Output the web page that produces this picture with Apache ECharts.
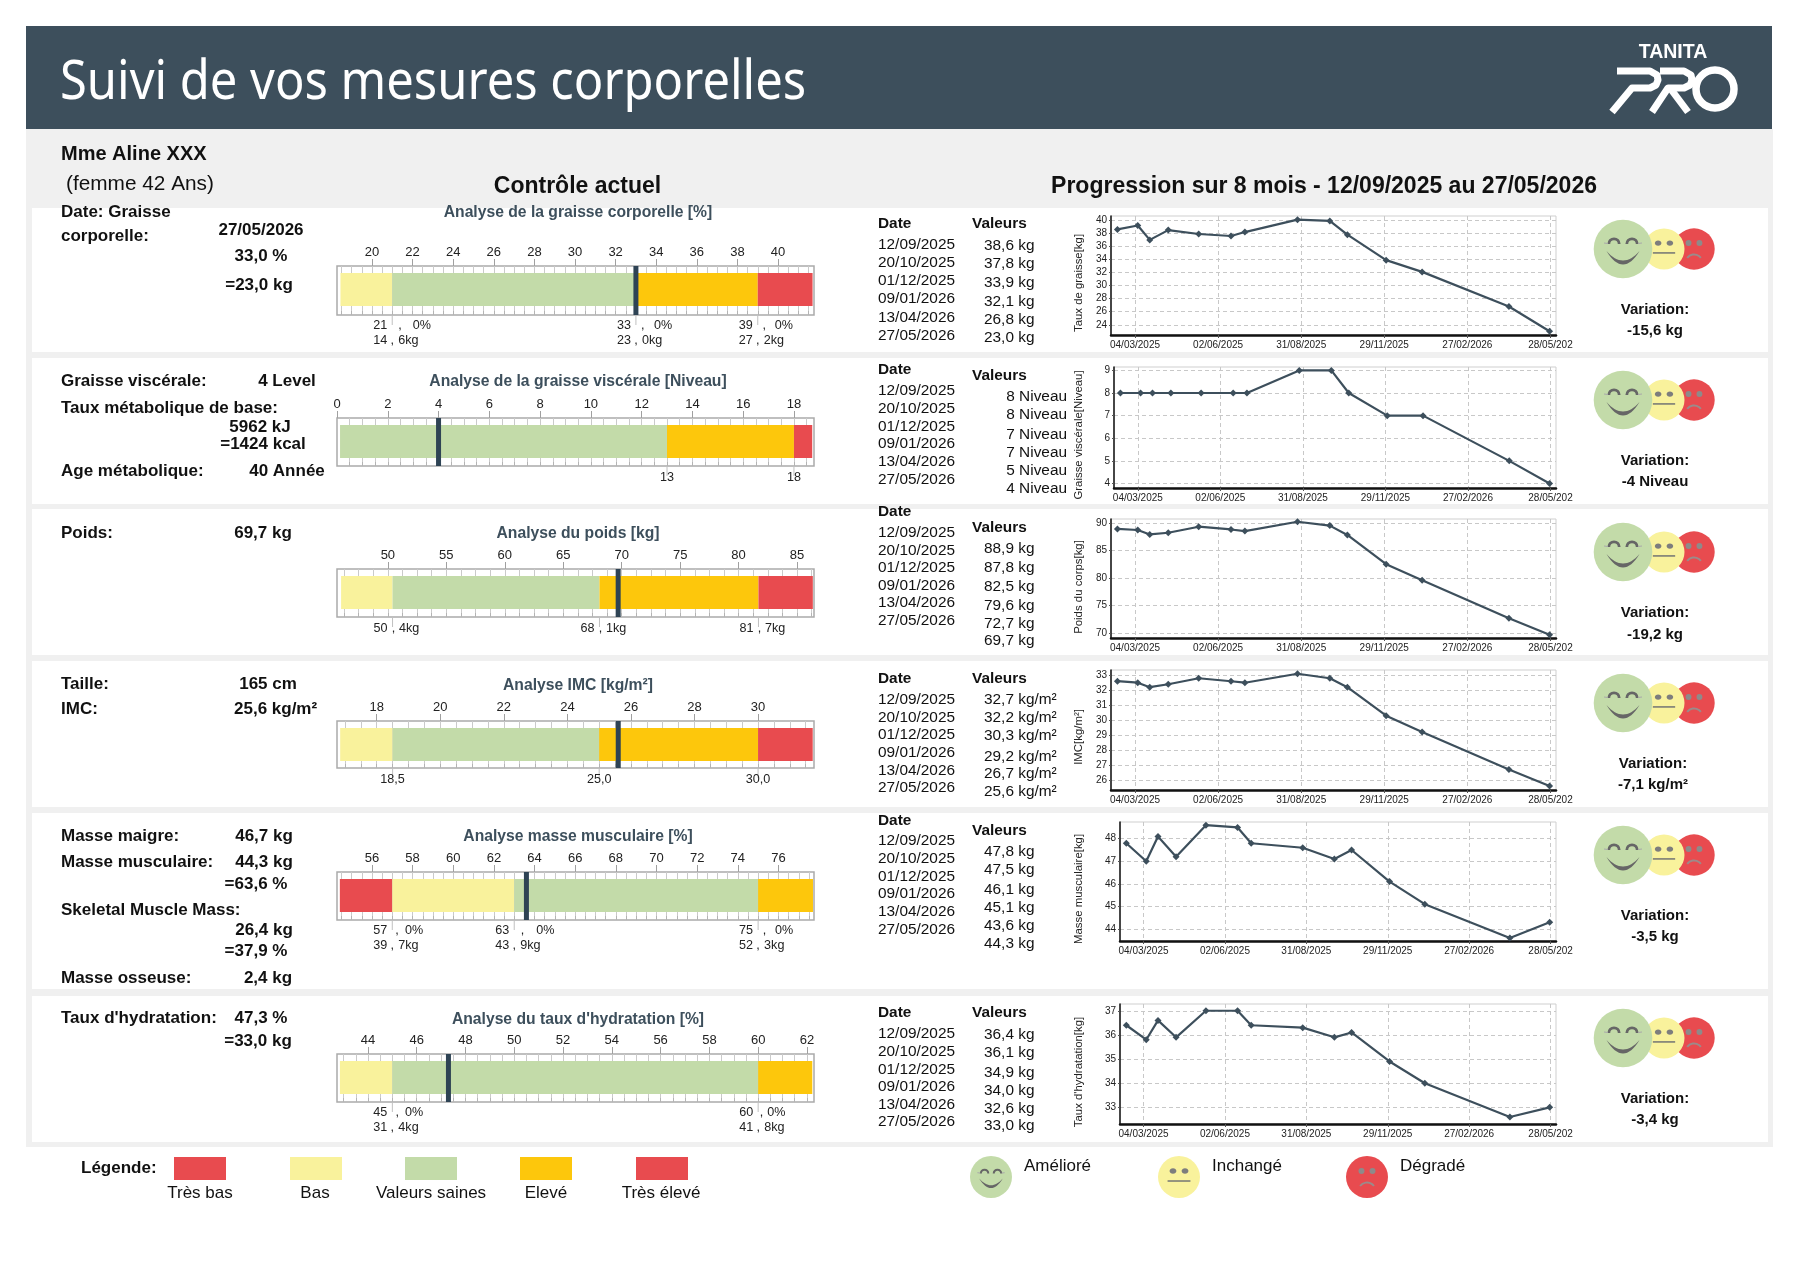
<!DOCTYPE html>
<html lang="fr">
<head>
<meta charset="utf-8">
<title>Suivi de vos mesures corporelles</title>
<script src="https://cdn.jsdelivr.net/npm/echarts@6/dist/echarts.min.js"></script>
<style>
html,body{margin:0;padding:0;background:#fff}
#main{width:1800px;height:1273px}
</style>
</head>
<body>
<div id="main"></div>
<script>
// ---------- Data ----------
const visitDates = ['2025-02-13','2025-03-07','2025-03-20','2025-04-09','2025-05-12','2025-06-16','2025-07-01','2025-08-27','2025-10-01','2025-10-20','2025-12-01','2026-01-09','2026-04-13','2026-05-27'];
const axisDates = ['2025-03-04','2025-06-02','2025-08-31','2025-11-29','2026-02-27','2026-05-28'];
const axisDateLabels = ['04/03/2025','02/06/2025','31/08/2025','29/11/2025','27/02/2026','28/05/202'];

const fatHistory = [38.6,39.2,37.0,38.5,37.9,37.6,38.2,40.1,39.9,37.8,33.9,32.1,26.8,23.0];
const visceralHistory = [8,8,8,8,8,8,8,9,9,8,7,7,5,4];
const weightHistory = [88.9,88.7,87.9,88.2,89.3,88.8,88.5,90.2,89.5,87.8,82.5,79.6,72.7,69.7];
const bmiHistory = [32.6,32.5,32.2,32.4,32.8,32.6,32.5,33.1,32.8,32.2,30.3,29.2,26.7,25.6];
const muscleHistory = [47.8,47.0,48.1,47.2,48.6,48.5,47.8,47.6,47.1,47.5,46.1,45.1,43.6,44.3];
const waterHistory = [36.4,35.8,36.6,35.9,37.0,37.0,36.4,36.3,35.9,36.1,34.9,34.0,32.6,33.0];

const tableDates = ['12/09/2025','20/10/2025','01/12/2025','09/01/2026','13/04/2026','27/05/2026'];
const fatTable = ['38,6 kg','37,8 kg','33,9 kg','32,1 kg','26,8 kg','23,0 kg'];
const visceralTable = ['8 Niveau','8 Niveau','7 Niveau','7 Niveau','5 Niveau','4 Niveau'];
const weightTable = ['88,9 kg','87,8 kg','82,5 kg','79,6 kg','72,7 kg','69,7 kg'];
const bmiTable = ['32,7 kg/m²','32,2 kg/m²','30,3 kg/m²','29,2 kg/m²','26,7 kg/m²','25,6 kg/m²'];
const muscleTable = ['47,8 kg','47,5 kg','46,1 kg','45,1 kg','43,6 kg','44,3 kg'];
const waterTable = ['36,4 kg','36,1 kg','34,9 kg','34,0 kg','32,6 kg','33,0 kg'];

const fatMarker = 33.0, visceralMarker = 4, weightMarker = 69.7, bmiMarker = 25.6, muscleMarker = 63.6, waterMarker = 47.3;

const fatLabels = [20,22,24,26,28,30,32,34,36,38,40];
const visceralLabels = [0,2,4,6,8,10,12,14,16,18];
const weightLabels = [50,55,60,65,70,75,80,85];
const bmiLabels = [18,20,22,24,26,28,30];
const muscleLabels = [56,58,60,62,64,66,68,70,72,74,76];
const waterLabels = [44,46,48,50,52,54,56,58,60,62];

const fatBands = [[18.45,21,'yellow'],[21,33,'green'],[33,39,'orange'],[39,41.7,'red']];
const visceralBands = [[0.12,13,'green'],[13,18,'orange'],[18,18.72,'red']];
const weightBands = [[46,50.4,'yellow'],[50.4,68.1,'green'],[68.1,81.7,'orange'],[81.7,86.35,'red']];
const bmiBands = [[16.85,18.5,'yellow'],[18.5,25,'green'],[25,30,'orange'],[30,31.72,'red']];
const muscleBands = [[54.42,57,'red'],[57,63,'yellow'],[63,75,'green'],[75,77.7,'orange']];
const waterBands = [[42.85,45,'yellow'],[45,60,'green'],[60,62.22,'orange']];

const fatThresholds = [[21,'21','0%','14','6kg'],[33,'33','0%','23','0kg'],[39,'39','0%','27','2kg']];
const visceralThresholds = [[13,'13'],[18,'18']];
const weightThresholds = [[50.4,'50','4kg'],[68.1,'68','1kg'],[81.7,'81','7kg']];
const bmiThresholds = [[18.5,'18,5'],[25,'25,0'],[30,'30,0']];
const muscleThresholds = [[57,'57','0%','39','7kg'],[63,'63','0%','43','9kg'],[75,'75','0%','52','3kg']];
const waterThresholds = [[45,'45','0%','31','4kg'],[60,'60','0%','41','8kg']];

const fatRange = [18.28,41.77], visceralRange = [0,18.79], weightRange = [45.65,86.45], bmiRange = [16.75,31.76], muscleRange = [54.28,77.75], waterRange = [42.73,62.29];
const fatSteps = [18.5,0.5], visceralSteps = [0.5,0.5], weightSteps = [46.25,1.25], bmiSteps = [17,0.5], muscleSteps = [54.5,0.5], waterSteps = [43,0.5];

const colors = {red:'#e84b4f', yellow:'#f9f29c', green:'#c3dba9', orange:'#fdc70c'};
const slate = '#3d4f5c', markerColor = '#2e4354', sans = '"Liberation Sans", Arial, sans-serif';

// ---------- Layout of the six rows ----------
const panels = [[208,352],[358,504],[509,655],[661,807],[813,989],[996,1142]];

const gauges = [
  {title:'Analyse de la graisse corporelle [%]', titleY:211, box:[266,315], range:fatRange, labels:fatLabels, steps:fatSteps, bands:fatBands, marker:fatMarker, thresholds:fatThresholds, gaps:[20.6,18,17]},
  {title:'Analyse de la graisse viscérale [Niveau]', titleY:380, box:[418,466], range:visceralRange, labels:visceralLabels, steps:visceralSteps, bands:visceralBands, marker:visceralMarker, thresholds:visceralThresholds},
  {title:'Analyse du poids [kg]', titleY:532, box:[569,617], range:weightRange, labels:weightLabels, steps:weightSteps, bands:weightBands, marker:weightMarker, thresholds:weightThresholds},
  {title:'Analyse IMC [kg/m²]', titleY:684, box:[721,768], range:bmiRange, labels:bmiLabels, steps:bmiSteps, bands:bmiBands, marker:bmiMarker, thresholds:bmiThresholds},
  {title:'Analyse masse musculaire [%]', titleY:835, box:[872,920], range:muscleRange, labels:muscleLabels, steps:muscleSteps, bands:muscleBands, marker:muscleMarker, thresholds:muscleThresholds, gaps:[12.6,22,17]},
  {title:"Analyse du taux d'hydratation [%]", titleY:1018, box:[1054,1102], range:waterRange, labels:waterLabels, steps:waterSteps, bands:waterBands, marker:waterMarker, thresholds:waterThresholds, gaps:[12.6,9]}
];

const charts = [
  {name:'Taux de graisse[kg]', nameY:283, left:1111, box:[216,335], range:[22.43,40.66], ticks:[24,26,28,30,32,34,36,38,40], values:fatHistory},
  {name:'Graisse viscérale[Niveau]', nameY:435, left:1114, box:[367,488], range:[3.8,9.15], ticks:[4,5,6,7,8,9], values:visceralHistory},
  {name:'Poids du corps[kg]', nameY:587, left:1111, box:[519,638], range:[69.1,90.7], ticks:[70,75,80,85,90], values:weightHistory},
  {name:'IMC[kg/m²]', nameY:737, left:1111, box:[670,790], range:[25.33,33.35], ticks:[26,27,28,29,30,31,32,33], values:bmiHistory},
  {name:'Masse musculaire[kg]', nameY:889, left:1120, box:[822,941], range:[43.47,48.74], ticks:[44,45,46,47,48], values:muscleHistory},
  {name:"Taux d'hydratation[kg]", nameY:1072, left:1120, box:[1004,1124], range:[32.31,37.28], ticks:[33,34,35,36,37], values:waterHistory}
];

const tables = [
  {headY:[222,222], dateY:[243,261,279,297,316,334], valueY:[244,262,281,300,318,336], values:fatTable},
  {headY:[368,374], dateY:[389,407,425,442,460,478], valueY:[395,413,433,451,469,487], values:visceralTable, rightAlign:true},
  {headY:[510,526], dateY:[531,549,566,584,601,619], valueY:[547,566,585,604,622,639], values:weightTable},
  {headY:[677,677], dateY:[698,716,733,751,769,786], valueY:[698,716,734,755,772,790], values:bmiTable},
  {headY:[819,829], dateY:[839,857,875,892,910,928], valueY:[850,868,888,906,924,942], values:muscleTable},
  {headY:[1011,1011], dateY:[1032,1050,1068,1085,1103,1120], valueY:[1033,1051,1071,1089,1107,1124], values:waterTable}
];

const variations = [
  {faceY:249, textX:1655, y:[308,329], text:'-15,6 kg'},
  {faceY:400, textX:1655, y:[459,480], text:'-4 Niveau'},
  {faceY:552, textX:1655, y:[611,633], text:'-19,2 kg'},
  {faceY:703, textX:1653, y:[762,783], text:'-7,1 kg/m²'},
  {faceY:855, textX:1655, y:[914,935], text:'-3,5 kg'},
  {faceY:1038, textX:1655, y:[1097,1118], text:'-3,4 kg'}
];

// Label, value text and position of the summary column on the left
const summary = [
  ['Date: Graisse',61,211,'b'],['corporelle:',61,235,'b'],['27/05/2026',261,229,'bc'],['33,0 %',261,255,'bc'],['=23,0 kg',259,284,'bc'],
  ['Graisse viscérale:',61,380,'b'],['4 Level',287,380,'bc'],['Taux métabolique de base:',61,407,'b'],['5962 kJ',260,426,'bc'],['=1424 kcal',263,443,'bc'],['Age métabolique:',61,470,'b'],['40 Année',287,470,'bc'],
  ['Poids:',61,532,'b'],['69,7 kg',263,532,'bc'],
  ['Taille:',61,683,'b'],['165 cm',268,683,'bc'],['IMC:',61,708,'b'],['25,6 kg/m²',234,708,'b'],
  ['Masse maigre:',61,835,'b'],['46,7 kg',264,835,'bc'],['Masse musculaire:',61,861,'b'],['44,3 kg',264,861,'bc'],['=63,6 %',256,883,'bc'],['Skeletal Muscle Mass:',61,909,'b'],['26,4 kg',264,929,'bc'],['=37,9 %',256,950,'bc'],['Masse osseuse:',61,977,'b'],['2,4 kg',268,977,'bc'],
  ["Taux d'hydratation:",61,1017,'b'],['47,3 %',261,1017,'bc'],['=33,0 kg',258,1040,'bc']
];

const legendBands = [['Très bas','red',174,200],['Bas','yellow',290,315],['Valeurs saines','green',405,431],['Elevé','orange',520,546],['Très élevé','red',636,661]];
const legendFaces = [['Amélioré','green',991,1024],['Inchangé','yellow',1179,1212],['Dégradé','red',1367,1400]];

// ---------- Helpers for page furniture ----------
const graphics = [];
function rect(x,y,w,h,fill,z){graphics.push({type:'rect',z:z===undefined?-10:z,silent:true,shape:{x,y,width:w,height:h},style:{fill}});}
function text(str,x,y,font,opt){
  opt=opt||{};
  graphics.push({type:'text',z:20,silent:true,x,y:opt.rotation?y:y+1.5,rotation:opt.rotation||0,scaleX:opt.scaleX||1,
    style:{text:str,x:0,y:0,font,fill:opt.fill||'#111',align:opt.align||'left',verticalAlign:'middle'}});
}
function add(type,shape,style,z){graphics.push({type,z:z,silent:true,shape,style});}

function crescentPoints(cx,cy,half,outer,inner){
  const pts=[];
  for(let i=0;i<=16;i++){const u=i/16,px=cx-half+2*half*u;pts.push([px,cy+2*outer*u*(1-u)*2]);}
  for(let i=16;i>=0;i--){const u=i/16,px=cx-half+2*half*u;pts.push([px,cy+2*inner*u*(1-u)*2]);}
  return pts;
}
function drawFace(kind,cx,cy,r,z){
  const s=r/29.3, grey='#666';
  if(kind==='green'){
    add('circle',{cx,cy,r},{fill:colors.green},z);
    [-1,1].forEach(d=>{
      add('arc',{cx:cx+d*9*s,cy:cy-5*s,r:5.2*s,startAngle:Math.PI,endAngle:2*Math.PI},{stroke:grey,lineWidth:2.8*s,fill:'none'},z+1);
      add('line',{x1:cx+d*15*s,y1:cy-5.5*s,x2:cx+d*19*s,y2:cy-6*s},{stroke:'#a9a9a9',lineWidth:1},z+1);
    });
    add('polygon',{points:crescentPoints(cx,cy+2*s,16.5*s,13.5*s,9.5*s)},{fill:grey},z+1);
  } else if(kind==='yellow'){
    add('circle',{cx,cy,r},{fill:colors.yellow},z);
    [-1,1].forEach(d=>add('ellipse',{cx:cx+d*6*s*1.4,cy:cy-6*s*1.4,rx:3.4*s*1.4,ry:2.8*s*1.4},{fill:'#7d7d7d'},z+1));
    add('line',{x1:cx-11*s*1.45,y1:cy+4*s*1.4,x2:cx+11*s*1.45,y2:cy+4*s*1.4},{stroke:'#8a8a7a',lineWidth:1.8},z+1);
  } else {
    add('circle',{cx,cy,r},{fill:colors.red},z);
    [-1,1].forEach(d=>add('circle',{cx:cx+d*5.5*s*1.4,cy:cy-6*s*1.4,r:3*s*1.4},{fill:'#8e8a8a'},z+1));
    add('arc',{cx,cy:cy+14*s*1.4,r:8.5*s*1.4,startAngle:1.2*Math.PI,endAngle:1.8*Math.PI},{stroke:'#9c8a8a',lineWidth:2,fill:'none'},z+1);
  }
}

// Page background and header band
rect(26,129,1747,1018,'#f0f0f0',-12);
rect(26,26,1746,103,slate,-11);
panels.forEach(p=>rect(32,p[0],1736,p[1]-p[0],'#ffffff',-11));
text('Suivi de vos mesures corporelles',60,82,'54px "Noto Sans", sans-serif',{fill:'#ffffff',scaleX:0.905});

// Logo
text('TANITA',1673,51,'bold 21px '+sans,{fill:'#ffffff',align:'center',scaleX:0.93});
const logoStroke={stroke:'#ffffff',lineWidth:7,fill:'none',lineJoin:'round',lineCap:'butt'};
add('polyline',{points:[[1617,71],[1650,71],[1657,75],[1658,80],[1656,85],[1650,88],[1632,88],[1612,112]]},logoStroke,5);
add('polyline',{points:[[1660,71],[1684,71],[1691,75],[1692,80],[1690,85],[1684,88],[1668,88],[1652,112]]},logoStroke,5);
add('polyline',{points:[[1670,88],[1688,112]]},logoStroke,5);
add('circle',{cx:1715,cy:89,r:19},{stroke:'#ffffff',lineWidth:7.5,fill:'none'},5);

// Person and section headings
text('Mme Aline XXX',61,153,'bold 20px '+sans);
text('(femme 42 Ans)',66,183,'20.8px '+sans);
text('Contrôle actuel',577.5,185,'bold 23px '+sans,{align:'center'});
text('Progression sur 8 mois - 12/09/2025 au 27/05/2026',1324,185,'bold 23px '+sans,{align:'center'});

summary.forEach(s=>text(s[0],s[1],s[2],'bold 17px '+sans,{align:s[3]==='bc'?'center':'left'}));

gauges.forEach(g=>text(g.title,578,g.titleY,'bold 15.7px '+sans,{align:'center',fill:slate}));

tables.forEach(t=>{
  text('Date',878,t.headY[0],'bold 15.4px '+sans);
  text('Valeurs',972,t.headY[1],'bold 15.4px '+sans);
  tableDates.forEach((d,i)=>text(d,878,t.dateY[i],'15.4px '+sans));
  t.values.forEach((v,i)=>text(v,t.rightAlign?1067:984,t.valueY[i],'15.4px '+sans,{align:t.rightAlign?'right':'left'}));
});

charts.forEach(c=>text(c.name,1079,c.nameY,'11.4px '+sans,{align:'center',rotation:Math.PI/2,fill:'#222'}));

variations.forEach(v=>{
  drawFace('red',1694,v.faceY,20.7,6);
  drawFace('yellow',1664,v.faceY,20.5,8);
  drawFace('green',1623,v.faceY,29.3,10);
  text('Variation:',v.textX,v.y[0],'bold 15px '+sans,{align:'center'});
  text(v.text,v.textX,v.y[1],'bold 15px '+sans,{align:'center'});
});

// Legends under the panels
text('Légende:',81,1167,'bold 17px '+sans);
legendBands.forEach(b=>{
  rect(b[2],1157,52,23,colors[b[1]],1);
  text(b[0],b[3],1192,'17px '+sans,{align:'center'});
});
legendFaces.forEach(f=>{
  drawFace(f[1],f[2],1177,21,4);
  text(f[0],f[3],1165,'17px '+sans);
});

// ---------- Axes and series ----------
const grid=[], xAxis=[], yAxis=[], series=[];

function tickValues(g){
  const out=[];
  for(let v=g.steps[0];v<=g.range[1];v+=g.steps[1]) out.push(v);
  return out;
}

gauges.forEach(g=>{
  const gi=grid.length, boxH=g.box[1]-g.box[0], xi=xAxis.length, yi=yAxis.length;
  grid.push({left:337,width:477,top:g.box[0],height:boxH,show:true,borderColor:'#ababab',borderWidth:1.5,backgroundColor:'transparent'});
  // Fine graduation: short outer ticks and the rungs inside the box
  xAxis.push({type:'value',gridIndex:gi,position:'top',min:g.range[0],max:g.range[1],
    axisLine:{show:false},axisLabel:{show:false},
    axisTick:{show:true,length:4,customValues:tickValues(g),lineStyle:{color:'#b4b4b4',width:1}},
    splitLine:{show:true,lineStyle:{color:'#cacaca',width:1}}});
  // Numbered graduation
  xAxis.push({type:'value',gridIndex:gi,position:'top',min:g.range[0],max:g.range[1],
    axisLine:{show:false},splitLine:{show:false},
    axisTick:{show:true,length:7,customValues:g.labels,lineStyle:{color:'#a0a0a0',width:1}},
    axisLabel:{show:true,margin:7,customValues:g.labels,fontSize:13,fontFamily:sans,color:'#222',hideOverlap:false,showMinLabel:true,showMaxLabel:true}});
  yAxis.push({type:'value',gridIndex:gi,min:0,max:1,show:false});

  const bandLow=(boxH-33-7)/boxH, bandHigh=(boxH-7)/boxH;
  series.push({type:'custom',name:g.title,xAxisIndex:xi,yAxisIndex:yi,z:3,silent:true,clip:false,
    data:g.bands.map(b=>({value:[b[0],b[1]],itemStyle:{color:colors[b[2]]}})),
    renderItem(params,api){
      const a=api.coord([api.value(0),bandLow]), b=api.coord([api.value(1),bandHigh]);
      return {type:'rect',shape:{x:a[0],y:b[1],width:b[0]-a[0],height:a[1]-b[1]},style:{fill:api.visual('color')}};
    }});
  series.push({type:'custom',name:g.title+' seuils',xAxisIndex:xi,yAxisIndex:yi,z:3,silent:true,clip:false,
    data:g.thresholds.map(t=>[t[0],0]),
    renderItem(params,api){
      const i=params.dataIndex, t=g.thresholds[i], p=api.coord([api.value(0),0]);
      const x=p[0], y=p[1];
      const font='12.6px '+sans, fill='#222';
      const label=(str,lx,ly,align)=>({type:'text',style:{text:str,x:lx,y:ly,font,fill,align,verticalAlign:'middle'}});
      const kids=[{type:'line',shape:{x1:x,y1:y,x2:x,y2:y+10},style:{stroke:'#c0c0c0',lineWidth:1}}];
      if(t.length===2){
        kids.push(label(t[1],x,y+12,'center'));
      } else if(t.length===3){
        kids.push(label(t[1],x-5,y+12,'right'),label(',',x+1,y+12,'center'),label(t[2],x+6.5,y+12,'left'));
      } else {
        const gap=g.gaps[i];
        kids.push(label(t[1],x-5,y+11,'right'),label(',',x+gap*0.38,y+11,'center'),label(t[2],x+gap,y+11,'left'));
        kids.push(label(t[3],x-5,y+25.5,'right'),label(',',x,y+25.5,'center'),label(t[4],x+6,y+25.5,'left'));
      }
      return {type:'group',children:kids};
    }});
  series.push({type:'custom',name:g.title+' valeur',xAxisIndex:xi,yAxisIndex:yi,z:5,silent:true,clip:false,
    data:[[g.marker,0]],
    renderItem(params,api){
      const a=api.coord([api.value(0),0]), b=api.coord([api.value(0),1]);
      return {type:'rect',shape:{x:a[0]-2.5,y:b[1],width:5,height:a[1]-b[1]},style:{fill:markerColor}};
    }});
});

// The time axes are plain value axes on timestamps so that their ticks can sit on fixed dates
const stamp = d => +echarts.time.parse(d);
const axisTimes = axisDates.map(stamp);

charts.forEach(c=>{
  const gi=grid.length, xi=xAxis.length, yi=yAxis.length;
  grid.push({left:c.left,width:1556-c.left,top:c.box[0],height:c.box[1]-c.box[0],show:true,borderColor:'#cfcfcf',borderWidth:1,backgroundColor:'transparent'});
  xAxis.push({type:'value',gridIndex:gi,min:stamp('2025-02-06'),max:stamp('2026-06-03'),
    axisLine:{show:true,onZero:false,lineStyle:{color:'#111',width:2.5}},
    axisTick:{show:true,length:3,customValues:axisTimes,lineStyle:{color:'#555'}},
    axisLabel:{show:true,margin:5,customValues:axisTimes,fontSize:10,fontFamily:sans,color:'#222',hideOverlap:false,
      formatter:v=>axisDateLabels[axisTimes.indexOf(+v)]},
    splitLine:{show:true,lineStyle:{color:'#c8c8c8',type:[4,3],width:1}}});
  yAxis.push({type:'value',gridIndex:gi,min:c.range[0],max:c.range[1],
    axisLine:{show:true,onZero:false,lineStyle:{color:'#111',width:1.5}},
    axisTick:{show:true,length:2,customValues:c.ticks,lineStyle:{color:'#555'}},
    axisLabel:{show:true,margin:4,customValues:c.ticks,fontSize:10,fontFamily:sans,color:'#222',hideOverlap:false},
    splitLine:{show:true,lineStyle:{color:'#c8c8c8',type:[4,3],width:1}}});
  series.push({type:'line',name:c.name,xAxisIndex:xi,yAxisIndex:yi,z:4,silent:true,animation:false,
    data:visitDates.map((d,i)=>[stamp(d),c.values[i]]),
    symbol:'diamond',symbolSize:7,showSymbol:true,clip:false,
    lineStyle:{color:slate,width:2.2},itemStyle:{color:slate}});
});

const chart = echarts.init(document.getElementById('main'),null,{renderer:'canvas',width:1800,height:1273});
chart.setOption({animation:false,backgroundColor:'#ffffff',grid,xAxis,yAxis,series,graphic:{elements:graphics}});
</script>
</body>
</html>
